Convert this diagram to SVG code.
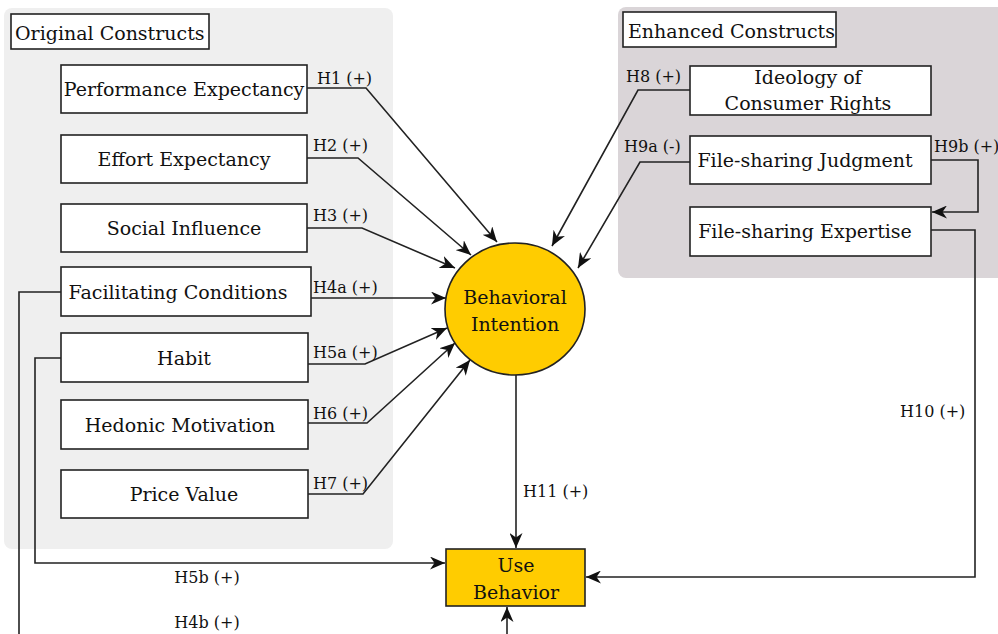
<svg xmlns="http://www.w3.org/2000/svg" width="998" height="634" viewBox="0 0 998 634">
<style>
.box{fill:#fff;stroke:#222;stroke-width:1.6}
.t{font-family:"DejaVu Serif","Liberation Serif",serif;font-size:19px;fill:#111;text-anchor:middle}
.ts{font-family:"DejaVu Serif","Liberation Serif",serif;font-size:19px;fill:#111}
.lb{font-family:"DejaVu Serif","Liberation Serif",serif;font-size:16px;fill:#111}
.lbm{font-family:"DejaVu Serif","Liberation Serif",serif;font-size:16px;fill:#111;text-anchor:middle}
.c{fill:none;stroke:#222;stroke-width:1.6}
.a{marker-end:url(#arr)}
</style>
<defs>
<marker id="arr" viewBox="0 0 15 13" refX="15" refY="6.5" markerWidth="15" markerHeight="13" markerUnits="userSpaceOnUse" orient="auto">
<path d="M0,0 L15,6.5 L0,13 L4.5,6.5 z" fill="#111"/>
</marker>
</defs>
<rect width="998" height="634" fill="#fff"/>
<g id="panel-original">
<rect x="4" y="8" width="389" height="541" rx="8" fill="#efefef"/>
<rect x="11" y="14" width="198" height="35" class="box"/>
<text x="15" y="40" class="ts">Original Constructs</text>
</g>
<g id="panel-enhanced">
<rect x="618" y="7" width="392" height="271" rx="8" fill="#dad5d8"/>
<rect x="623" y="12" width="213" height="35" class="box"/>
<text x="628" y="38" class="ts">Enhanced Constructs</text>
</g>
<g id="connectors">
<path class="c a" d="M307,88 H366 L497,242"/>
<path class="c a" d="M307,158 H358 L471,255"/>
<path class="c a" d="M307,228 H362 L455,268"/>
<path class="c a" d="M311,298 H446"/>
<path class="c a" d="M308,364 H365 L447,328"/>
<path class="c a" d="M308,423 H367 L455,343"/>
<path class="c a" d="M308,494 H363 L470,360"/>
<path class="c a" d="M690,90 H638 L552,246"/>
<path class="c a" d="M690,162 H640 L578,268"/>
<path class="c a" d="M931,160 H978 V212 H932"/>
<path class="c a" d="M931,230 H975 V577 H586"/>
<path class="c a" d="M516,375 V548"/>
<path class="c a" d="M61,358 H35 V563 H445"/>
<path class="c" d="M61,292 H19 V640"/>
<path class="c a" d="M507,640 V607"/>
<text x="317" y="84" class="lb">H1 (+)</text>
<text x="313" y="151" class="lb">H2 (+)</text>
<text x="313" y="221" class="lb">H3 (+)</text>
<text x="313" y="293" class="lb">H4a (+)</text>
<text x="313" y="358" class="lb">H5a (+)</text>
<text x="313" y="419" class="lb">H6 (+)</text>
<text x="313" y="489" class="lb">H7 (+)</text>
<text x="626" y="82" class="lb">H8 (+)</text>
<text x="624" y="152" class="lb">H9a (-)</text>
<text x="934" y="152" class="lb" font-size="15">H9b (+)</text>
<text x="900" y="417" class="lb">H10 (+)</text>
<text x="523" y="497" class="lb">H11 (+)</text>
<text x="207" y="583" class="lbm">H5b (+)</text>
<text x="207" y="628" class="lbm">H4b (+)</text>
</g>
<g id="performance-expectancy"><rect x="61" y="65" width="246" height="48" class="box"/><text x="184" y="96" class="t">Performance Expectancy</text></g>
<g id="effort-expectancy"><rect x="61" y="135" width="246" height="48" class="box"/><text x="184" y="166" class="t">Effort Expectancy</text></g>
<g id="social-influence"><rect x="61" y="204" width="246" height="48" class="box"/><text x="184" y="235" class="t">Social Influence</text></g>
<g id="facilitating-conditions"><rect x="61" y="267" width="250" height="49" class="box"/><text x="178" y="299" class="t">Facilitating Conditions</text></g>
<g id="habit"><rect x="61" y="333" width="247" height="49" class="box"/><text x="184" y="365" class="t">Habit</text></g>
<g id="hedonic-motivation"><rect x="61" y="400" width="247" height="49" class="box"/><text x="180" y="432" class="t">Hedonic Motivation</text></g>
<g id="price-value"><rect x="61" y="470" width="247" height="48" class="box"/><text x="184" y="501" class="t">Price Value</text></g>
<g id="ideology"><rect x="690" y="66" width="241" height="49" class="box"/><text x="808" y="84" class="t">Ideology of</text><text x="808" y="110" class="t">Consumer Rights</text></g>
<g id="judgment"><rect x="690" y="136" width="241" height="48" class="box"/><text x="805" y="167" class="t">File-sharing Judgment</text></g>
<g id="expertise"><rect x="690" y="207" width="241" height="49" class="box"/><text x="805" y="238" class="t">File-sharing Expertise</text></g>
<g id="behavioral-intention"><ellipse cx="515" cy="309" rx="70" ry="66" fill="#ffcc00" stroke="#222" stroke-width="1.6"/><text x="515" y="304" class="t">Behavioral</text><text x="515" y="331" class="t">Intention</text></g>
<g id="use-behavior"><rect x="446" y="549" width="139" height="57" fill="#ffcc00" stroke="#222" stroke-width="1.6"/><text x="516" y="572" class="t">Use</text><text x="516" y="599" class="t">Behavior</text></g>
</svg>
